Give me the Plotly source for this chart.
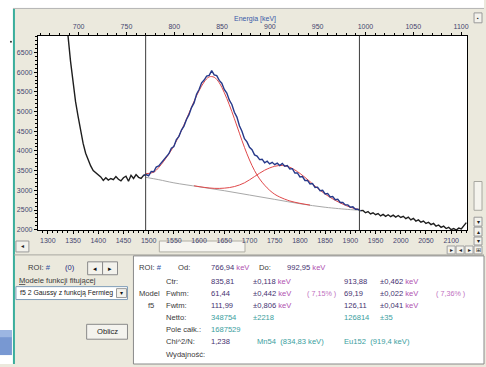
import plotly.graph_objects as go

W, H = 486, 367

# ---------------- data ----------------
channels = list(range(1280, 2131, 5))
counts = [
    # 1280 - 1490
    12200, 11700, 11200, 10700, 10250, 9800, 9400, 9000, 8600, 8250,
    7850, 7400, 6925, 6280, 5700, 5250, 4880, 4530, 4190, 3940,
    3760, 3620, 3500, 3440, 3390, 3340, 3250, 3320, 3260, 3300,
    3270, 3350, 3280, 3240, 3320, 3360, 3230, 3380, 3300, 3400,
    3330, 3300, 3380,
    # 1495 - 1920 (ROI)
    3400, 3370, 3480, 3470, 3590, 3620, 3700, 3770, 3860, 3930,
    4070, 4110, 4290, 4370, 4530, 4630, 4800, 4920, 5100, 5220,
    5440, 5560, 5730, 5800, 5900, 5920, 6040, 5930, 5910, 5790,
    5720, 5560, 5470, 5290, 5180, 4980, 4860, 4640, 4500, 4310,
    4230, 4090, 4030, 3900, 3870, 3780, 3790, 3700, 3740, 3670,
    3710, 3650, 3690, 3630, 3680, 3610, 3630, 3540, 3550, 3440,
    3440, 3340, 3350, 3250, 3250, 3160, 3170, 3070, 3080, 2990,
    3000, 2910, 2920, 2830, 2840, 2760, 2770, 2690, 2690, 2630,
    2630, 2570, 2580, 2520, 2520, 2480,
    # 1925 - 2130
    2490, 2430, 2460, 2400, 2430, 2380, 2410, 2350, 2390, 2340,
    2380, 2330, 2370, 2320, 2360, 2310, 2340, 2280, 2320, 2250,
    2290, 2220, 2250, 2190, 2220, 2160, 2190, 2130, 2160, 2090,
    2120, 2060, 2090, 2030, 2060, 2000, 2030, 1990, 2040, 2020,
    2090, 2180,
]

roi_start_ch, roi_end_ch = 1494, 1918
roi_start_kev, roi_end_kev = 766.94, 992.95

bg_ch = [1494, 1520, 1550, 1600, 1650, 1700, 1750, 1800, 1850, 1900, 1918]
bg_counts = [3330, 3270, 3190, 3090, 2990, 2880, 2770, 2660, 2570, 2510, 2495]

fit1_ch = [1494, 1510, 1520, 1530, 1540, 1550, 1560, 1570, 1580, 1590, 1600,
           1610, 1620, 1630, 1640, 1650, 1660, 1670, 1680, 1690, 1700, 1710,
           1720, 1730, 1740, 1750, 1760, 1780, 1800, 1820]
fit1_counts = [3420, 3460, 3580, 3740, 3920, 4130, 4380, 4660, 4960, 5260, 5530,
               5750, 5880, 5870, 5730, 5480, 5170, 4820, 4450, 4090, 3770, 3500,
               3290, 3130, 3000, 2900, 2830, 2730, 2670, 2625]

fit2_ch = [1590, 1610, 1630, 1650, 1670, 1690, 1710, 1730, 1750, 1765, 1780,
           1800, 1820, 1840, 1860, 1880, 1900, 1918]
fit2_counts = [3115, 3075, 3050, 3055, 3095, 3190, 3350, 3510, 3610, 3630, 3585,
               3430, 3220, 3000, 2820, 2680, 2570, 2510]

x_ticks = [1300, 1350, 1400, 1450, 1500, 1550, 1600, 1650, 1700, 1750, 1800,
           1850, 1900, 1950, 2000, 2050, 2100]
e_ticks = [700, 750, 800, 850, 900, 950, 1000, 1050, 1100]
y_ticks = [2000, 2500, 3000, 3500, 4000, 4500, 5000, 5500, 6000, 6500]

ch_range = [1280.2, 2131.5]
e_range = [657.3, 1106.3]
y_range = [1990, 6925]

# ---------------- helpers ----------------
def PX(x):
    return x / W

def PY(y):
    return 1 - y / H

FONT = "Liberation Sans"
BEIGE = "#ebe9dd"
LBL = "#3a3a3a"
VAL = "#45326f"
KEV = "#b050b0"
PCT = "#c070c0"
TEAL = "#3a9e9e"
FS = 7.6

shapes = []
annotations = []


def rect(x0, y0, x1, y1, fill, line=None, lw=1):
    shapes.append(dict(type="rect", xref="paper", yref="paper",
                       x0=PX(x0), x1=PX(x1), y0=PY(y1), y1=PY(y0),
                       fillcolor=fill,
                       line=dict(color=line if line else "rgba(0,0,0,0)",
                                 width=lw if line else 0),
                       layer="below"))


def hline(x0, x1, y, color, lw=1):
    shapes.append(dict(type="line", xref="paper", yref="paper",
                       x0=PX(x0), x1=PX(x1), y0=PY(y), y1=PY(y),
                       line=dict(color=color, width=lw), layer="below"))


def vline(x, y0, y1, color, lw=1):
    shapes.append(dict(type="line", xref="paper", yref="paper",
                       x0=PX(x), x1=PX(x), y0=PY(y0), y1=PY(y1),
                       line=dict(color=color, width=lw), layer="below"))


def text(x, y, t, color=LBL, size=FS, anchor="left"):
    annotations.append(dict(xref="paper", yref="paper", x=PX(x), y=PY(y),
                            text=t, showarrow=False, xanchor=anchor,
                            yanchor="middle",
                            font=dict(family=FONT, size=size, color=color)))


# ---------------- traces ----------------
fig = go.Figure()

fig.add_trace(go.Scatter(x=bg_ch, y=bg_counts, mode="lines",
                         line=dict(color="#a8a8a8", width=1, shape="spline"),
                         hoverinfo="skip"))
fig.add_trace(go.Scatter(x=fit1_ch, y=fit1_counts, mode="lines",
                         line=dict(color="#e0484a", width=1, shape="spline"),
                         hoverinfo="skip"))
fig.add_trace(go.Scatter(x=fit2_ch, y=fit2_counts, mode="lines",
                         line=dict(color="#e0484a", width=1, shape="spline"),
                         hoverinfo="skip"))

pre = [(c, v) for c, v in zip(channels, counts) if c <= roi_start_ch + 1]
inside = [(c, v) for c, v in zip(channels, counts)
          if roi_start_ch - 4 <= c <= roi_end_ch + 2]
post = [(c, v) for c, v in zip(channels, counts) if c >= roi_end_ch + 2]

for seg, col in ((pre, "#1e1e1e"), (post, "#1e1e1e"), (inside, "#26398a")):
    fig.add_trace(go.Scatter(x=[p[0] for p in seg], y=[p[1] for p in seg],
                             mode="lines", line=dict(color=col, width=1.4),
                             hoverinfo="skip"))

# energy axis carrier (invisible)
fig.add_trace(go.Scatter(x=[roi_start_kev, roi_end_kev], y=[4000, 4000],
                         xaxis="x2", yaxis="y", mode="markers",
                         marker=dict(opacity=0), hoverinfo="skip"))

# ROI lines
for ch in (roi_start_ch, roi_end_ch):
    shapes.append(dict(type="line", xref="x", yref="y domain", x0=ch, x1=ch,
                       y0=0, y1=1, line=dict(color="#3c3c3c", width=1),
                       layer="above"))

# ---------------- window chrome ----------------
rect(0, 0, 486, 8, "#ffffff")
rect(0, 0, 13, 367, "#ffffff")
hline(13, 486, 8.5, "#b4b4b4")
vline(14, 9, 367, "#3aae9c", 2)
rect(0, 333, 12, 358, "#7898d2")
rect(0, 333, 12, 340, "#9cb6e2")
shapes.append(dict(type="circle", xref="paper", yref="paper",
                   x0=PX(10), x1=PX(12), y0=PY(43), y1=PY(41),
                   fillcolor="#333", line=dict(width=0)))

# right vertical scrollbar
rect(476, 13, 484, 23, "#f3f2ec", "#9a9a9a")
text(480, 18, "▪", "#222", 5, "center")
rect(476, 183, 484, 212, "#f5f4ee", "#a8a8a0")
rect(476, 219, 484, 228, "#f3f2ec", "#9a9a9a")
text(480, 223.5, "▾", "#222", 6, "center")
rect(476, 229, 484, 238, "#f3f2ec", "#9a9a9a")
text(480, 233.5, "▴", "#222", 6, "center")
rect(476, 239, 484, 247, "#f3f2ec", "#9a9a9a")
text(480, 243, "▾", "#222", 6, "center")
for i, g in enumerate(["▸", "◂", "▸", "⊞"]):
    x0 = 449 + i * 9
    rect(x0, 248, x0 + 8, 256, "#f3f2ec", "#a0a0a0")
    text(x0 + 4, 252, g, "#222", 6, "center")

# horizontal scrollbar
rect(16, 243, 29, 254, "#f3f2ec", "#9a9a9a")
text(22.5, 248.5, "◂", "#222", 6, "center")
rect(160, 243, 246, 254, "#f6f5f0", "#b0aea4")

# separators / panels
hline(14, 486, 257, "#a8a8a0")
rect(134, 258, 486, 367, "#ffffff", "#8a8a8a")

# left control panel
text(26, 270, "ROI: <span style='color:#3050a0'>#</span>", LBL)
text(63, 270, "(0)", "#2a2a80")
rect(88, 264, 103, 277, "#f3f2ec", "#8a8a8a")
rect(103, 264, 118, 277, "#f3f2ec", "#8a8a8a")
text(95.5, 270.5, "◂", "#111", 7, "center")
text(110.5, 270.5, "▸", "#111", 7, "center")
text(17, 283, "<u>M</u>odele funkcji fitującej", LBL)
rect(16, 289, 128, 302, "#ffffff", "#7f9db9")
text(18, 295.5, "f5 2 Gaussy z funkcją Fermieg", "#222", 6.9)
rect(117, 291, 127, 300, "#f3f2ec", "#9a9a9a")
text(122, 295.5, "▾", "#111", 6, "center")
rect(87, 327, 128, 342, "#f4f3ee", "#8a8a8a")
text(107.5, 334.5, "Oblicz", "#222", FS, "center")

# result panel
def kv(v, unit="keV"):
    return "%s <span style='color:%s'>%s</span>" % (v, KEV, unit)

text(138, 270, "ROI: <span style='color:#3050a0'>#</span>", LBL)
text(177, 270, "Od:", LBL)
text(210, 270, kv("766,94"), VAL)
text(258, 270, "Do:", LBL)
text(286, 270, kv("992,95"), VAL)

rows_y = [284, 296, 308, 320, 332, 344, 357]
row_labels = ["Ctr:", "Fwhm:", "Fwtm:", "Netto:", "Pole całk.:", "Chi^2/N:",
              "Wydajność:"]
for yy, lab in zip(rows_y, row_labels):
    text(165, yy, lab, LBL)
text(138, 296, "Model", LBL)
text(147, 308, "f5", LBL)

ctr_vals = ["835,81", "913,88"]
ctr_errs = ["±0,118", "±0,462"]
fwhm_vals = ["61,44", "69,19"]
fwhm_errs = ["±0,442", "±0,022"]
fwhm_pct = ["( 7,15% )", "( 7,36% )"]
fwtm_vals = ["111,99", "126,11"]
fwtm_errs = ["±0,806", "±0,041"]
netto_vals = ["348754", "126814"]
netto_errs = ["±2218", "±35"]
pole_val = "1687529"
chi_val = "1,238"
iso_names = ["Mn54  (834,83 keV)", "Eu152  (919,4 keV)"]

col_val = [210, 343]
col_err = [252, 380]
col_pct = [306, 436]
for i in range(2):
    text(col_val[i], rows_y[0], ctr_vals[i], VAL)
    text(col_err[i], rows_y[0], kv(ctr_errs[i]), VAL)
    text(col_val[i], rows_y[1], fwhm_vals[i], VAL)
    text(col_err[i], rows_y[1], kv(fwhm_errs[i]), VAL)
    text(col_pct[i], rows_y[1], fwhm_pct[i], PCT, 7.2)
    text(col_val[i], rows_y[2], fwtm_vals[i], VAL)
    text(col_err[i], rows_y[2], kv(fwtm_errs[i]), VAL)
    text(col_val[i], rows_y[3], netto_vals[i], TEAL)
    text(col_err[i], rows_y[3], netto_errs[i], TEAL)
text(210, rows_y[4], pole_val, TEAL)
text(210, rows_y[5], chi_val, VAL)
text(256, rows_y[5], iso_names[0], TEAL)
text(343, rows_y[5], iso_names[1], TEAL)

# energy axis title
text(256, 19, "Energia [keV]", "#3a5aa8", 7, "center")

# ---------------- layout ----------------
tickfont = dict(family=FONT, size=7, color="#45456e")
axis_common = dict(showgrid=False, zeroline=False, showline=True,
                   linecolor="#000000", linewidth=1, ticks="outside",
                   ticklen=3, tickcolor="#000000", tickfont=tickfont)

fig.update_layout(
    width=W, height=H,
    margin=dict(l=0, r=0, t=0, b=0),
    paper_bgcolor=BEIGE,
    plot_bgcolor="#ffffff",
    showlegend=False,
    shapes=shapes,
    annotations=annotations,
    xaxis=dict(domain=[PX(38), PX(469)], range=ch_range, tickvals=x_ticks,
               mirror=True, minor=dict(dtick=10, ticklen=2, ticks="outside",
                                       tickcolor="#000000"),
               **axis_common),
    xaxis2=dict(overlaying="x", side="top", anchor="y", range=e_range,
                tickvals=e_ticks,
                minor=dict(dtick=10, ticklen=2, ticks="outside",
                           tickcolor="#000000"),
                **axis_common),
    yaxis=dict(domain=[PY(232), PY(36)], range=y_range, tickvals=y_ticks,
               mirror=True, minor=dict(dtick=100, ticklen=2, ticks="outside",
                                       tickcolor="#000000"),
               **axis_common),
)

fig.write_html("out.html")
